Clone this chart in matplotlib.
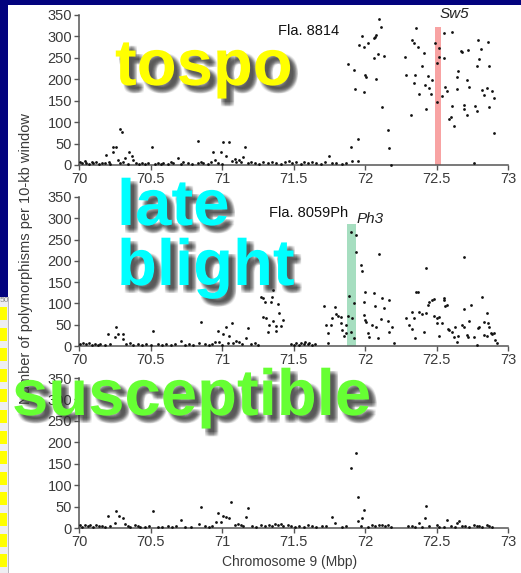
import matplotlib
matplotlib.use('Agg')
import matplotlib.pyplot as plt
import matplotlib.patheffects as pe
from matplotlib.patches import Rectangle
import numpy as np

# ---- data (Mbp, polymorphisms per 10 kb) ----
top_pts = [(70.29,84),(70.30,77),(70.24,42),(70.26,42),(70.19,23),(70.24,30),(70.27,12),(70.32,16),
           (70.35,30),(70.37,21),(70.38,12),(70.51,42),(70.69,16),(70.73,7),(70.83,56),(70.83,5),
           (70.94,30),(70.99,30),(70.95,12),(71.01,54),(71.05,54),(71.03,21),(71.16,42),(71.15,18),
           (72.10,341),(72.11,322),(71.98,301),(71.96,280),(71.99,275),(72.02,285),(72.06,296),(72.07,299),
           (72.08,303),(72.06,250),(72.09,259),(72.13,254),(71.88,236),(71.92,222),(72.00,210),(72.01,205),
           (72.08,201),(71.93,177),(71.99,170),(72.12,135),(72.16,82),(71.95,61),(71.90,42),(72.17,40),
           (71.75,21),(71.91,9),(71.95,9),(72.18,0),
           (72.36,319),(72.33,292),(72.34,285),(72.37,275),(72.41,261),(72.28,252),(72.40,231),(72.29,210),
           (72.35,210),(72.44,208),(72.47,198),(72.34,191),(72.42,187),(72.45,180),(72.38,166),(72.46,166),
           (72.50,147),(72.43,131),(72.32,117),(72.49,285),(72.55,308),(72.61,310),(72.52,273),(72.52,252),
           (72.55,250),(72.50,238),(72.56,182),(72.57,173),(72.54,161),(72.65,219),(72.64,205),(72.64,177),
           (72.61,138),(72.60,112),(72.59,107),(72.62,91),(72.67,266),(72.68,264),(72.72,268),(72.79,292),
           (72.86,287),(72.81,271),(72.80,247),(72.78,231),(72.87,231),(72.71,198),(72.73,182),(72.82,175),
           (72.83,163),(72.85,180),(72.89,173),(72.90,156),(72.69,140),(72.69,131),(72.71,117),(72.77,138),
           (72.78,126),(72.87,135),(72.90,75),(72.76,5)]
top_base = [(70.01,6),(70.02,4),(70.04,9),(70.05,5),(70.07,3),(70.09,7),(70.10,4),(70.12,6),(70.14,3),
            (70.16,5),(70.18,4),(70.21,6),(70.22,2),(70.29,4),(70.31,7),(70.34,3),(70.40,5),(70.42,2),
            (70.44,4),(70.46,3),(70.48,5),(70.53,3),(70.55,4),(70.57,2),(70.59,5),(70.62,3),(70.64,6),
            (70.66,4),(70.71,3),(70.76,5),(70.79,2),(70.85,8),(70.87,4),(70.90,3),(70.92,6),(70.97,5),
            (71.00,3),(71.07,10),(71.09,14),(71.10,8),(71.12,12),(71.13,6),(71.18,4),(71.20,7),(71.23,5),
            (71.26,3),(71.29,6),(71.32,4),(71.35,8),(71.38,5),(71.41,3),(71.44,7),(71.47,9),(71.49,4),
            (71.52,6),(71.55,3),(71.57,8),(71.60,5),(71.63,7),(71.66,4),(71.69,3),(71.72,6),(71.77,5),
            (71.80,4),(71.84,3),(71.87,5)]

mid_pts = [(70.20,28),(70.26,45),(70.25,21),(70.27,28),(70.31,28),(70.31,16),(70.52,35),(70.71,12),
           (70.85,56),(70.84,7),(70.97,35),(71.01,28),(71.03,45),(71.07,54),(71.05,23),(70.95,9),(70.98,9),
           (71.18,42),(71.17,19),
           (71.27,115),(71.29,113),(71.30,103),(71.35,115),(71.34,103),(71.39,99),(71.36,132),(71.40,78),
           (71.29,68),(71.31,66),(71.36,59),(71.43,61),(71.33,49),(71.38,47),(71.41,47),(71.32,33),(71.38,35),
           (71.71,94),(71.73,49),(71.76,49),(71.74,31),(71.77,66),(71.79,92),(71.80,75),(71.81,70),(71.83,68),
           (71.83,54),(71.84,38),(71.85,23),(71.74,7),
           (71.90,268),(71.94,261),(71.94,221),(71.97,190),(71.98,176),(71.89,117),(71.92,101),(71.88,70),
           (71.91,66),(71.87,49),(71.90,33),(71.87,31),(71.92,19),
           (72.00,127),(71.99,103),(71.99,73),(72.00,61),(72.01,56),(72.02,31),(72.03,21),(72.05,49),
           (72.06,125),(72.07,94),(72.10,216),(72.08,45),(72.09,19),(72.11,63),(72.12,113),(72.13,89),
           (72.17,108),(72.16,59),(72.17,33),(72.19,45),(72.20,7),
           (72.29,66),(72.31,49),(72.33,40),(72.34,66),(72.35,19),(72.33,80),(72.36,127),(72.37,127),
           (72.38,80),(72.40,75),(72.41,33),(72.43,183),(72.43,78),(72.44,96),(72.45,103),(72.47,108),
           (72.48,110),(72.48,70),(72.50,66),(72.50,54),(72.52,68),(72.54,54),(72.52,23),(72.55,113),
           (72.55,108),(72.56,94),(72.57,96),(72.58,40),(72.59,38),(72.61,33),(72.62,21),(72.63,45),
           (72.64,9),(72.65,23),(72.68,49),(72.69,45),(72.69,209),(72.69,87),(72.71,26),(72.72,21),
           (72.73,59),(72.74,96),(72.78,2),(72.76,21),(72.79,42),(72.80,45),(72.82,115),(72.83,56),
           (72.83,26),(72.85,23),(72.85,78),(72.86,54),(72.87,45),(72.88,31),(72.89,28),(72.90,31),
           (72.91,14),(72.92,7)]
mid_base = [(70.01,5),(70.03,8),(70.05,4),(70.07,6),(70.09,3),(70.11,5),(70.13,2),(70.15,4),(70.18,3),
            (70.22,5),(70.33,4),(70.36,6),(70.38,3),(70.41,5),(70.44,2),(70.47,4),(70.50,3),(70.55,5),
            (70.58,2),(70.61,4),(70.64,3),(70.67,5),(70.74,3),(70.77,4),(70.80,2),(70.88,5),(70.91,3),
            (70.93,4),(71.00,3),(71.04,6),(71.08,8),(71.10,12),(71.12,9),(71.14,5),(71.20,4),(71.23,6),
            (71.25,3),(71.48,4),(71.50,2),(71.52,6),(71.54,3),(71.55,8),(71.57,5),(71.58,10),(71.60,4),
            (71.61,7),(71.63,3),(71.65,5)]

bot_pts = [(70.20,28),(70.25,12),(70.26,40),(70.28,28),(70.31,23),(70.32,9),(70.52,40),(70.71,19),
           (70.85,49),(70.84,9),(70.97,35),(71.01,28),(71.03,26),(71.05,23),(71.06,61),(70.96,14),
           (70.99,14),(71.18,47),(71.17,26),
           (71.77,26),(71.79,12),(71.90,140),(71.94,175),(71.95,72),(71.99,42),(71.98,23),(71.95,16),
           (72.38,12),(72.42,23),(72.43,51),(72.50,7),(72.57,19),(72.64,12),(72.66,16)]
bot_base = [(70.01,6),(70.02,3),(70.04,8),(70.06,4),(70.08,6),(70.10,3),(70.12,7),(70.14,4),(70.16,5),
            (70.18,3),(70.22,4),(70.34,5),(70.36,3),(70.39,6),(70.41,4),(70.43,2),(70.46,3),(70.49,5),
            (70.55,3),(70.58,2),(70.62,4),(70.65,3),(70.68,5),(70.74,3),(70.78,2),(70.88,4),(70.91,3),
            (70.93,5),(71.09,8),(71.11,10),(71.13,6),(71.15,5),(71.21,4),(71.24,3),(71.27,6),(71.30,4),
            (71.33,7),(71.35,5),(71.37,10),(71.39,8),(71.41,9),(71.43,5),(71.46,6),(71.48,4),(71.51,3),
            (71.54,5),(71.57,2),(71.60,6),(71.63,4),(71.66,3),(71.70,5),(71.73,4),(71.84,3),(71.87,5),
            (71.97,4),(72.02,3),(72.05,7),(72.07,5),(72.10,6),(72.12,8),(72.14,4),(72.16,6),(72.18,3),
            (72.30,4),(72.33,5),(72.35,3),(72.40,2),(72.45,4),(72.52,3),(72.55,2),(72.60,5),(72.63,3),
            (72.68,4),(72.70,5),(72.73,3),(72.76,6),(72.78,4),(72.80,5),(72.82,3),(72.85,6),(72.87,4),
            (72.89,3)]

# gene bands: centre, width, top
band_x = [72.51, 71.905]
band_w = [0.042, 0.063]
band_top = [322, 287]
band_col = ['#f8a3a3', '#a6dec0']

xticks = [70, 70.5, 71, 71.5, 72, 72.5, 73]
xlabels = ['70', '70.5', '71', '71.5', '72', '72.5', '73']
yticks = [0, 50, 100, 150, 200, 250, 300, 350]

W, H = 521, 573
def fx(px):
    return px / W
def fy(py):
    return 1 - py / H

plt.rcParams['font.family'] = ['Liberation Sans', 'DejaVu Sans']
fig = plt.figure(figsize=(W/100, H/100), dpi=100, facecolor='#03037e')

# white slide panel and the strip of another screenshot on the left
fig.patches.append(Rectangle((fx(8), 0), 1, fy(5), transform=fig.transFigure,
                             facecolor='white', edgecolor='none', zorder=-10))
fig.patches.append(Rectangle((0, 0), fx(8), fy(297), transform=fig.transFigure,
                             facecolor='#eeeef2', edgecolor='none', zorder=-9))
for k in range(13):
    y0 = 307 + k * 20.6
    fig.patches.append(Rectangle((0, fy(y0 + 13)), fx(7), 13 / H, transform=fig.transFigure,
                                 facecolor='#ffff00', edgecolor='none', zorder=-8))
fig.patches.append(Rectangle((fx(8), 0), 1.2 / W, fy(297), transform=fig.transFigure,
                             facecolor='#b8b8c0', edgecolor='none', zorder=-8))
fig.text(fx(0), fy(301), '50', fontsize=6, color='#888888', va='center', ha='left', zorder=-7)

panels = [(15, 165, top_pts, top_base), (197, 346, mid_pts, mid_base), (378, 528, bot_pts, bot_base)]
axes = []
for i, (ytop, ybot, pts, base) in enumerate(panels):
    ax = fig.add_axes([fx(79), fy(ybot), fx(508) - fx(79), (ybot - ytop) / H])
    ax.set_facecolor('none')
    if i < 2:
        ax.bar(band_x[i], band_top[i], width=band_w[i], color=band_col[i], zorder=1)
    allp = np.array(pts + base)
    ax.scatter(allp[:, 0], allp[:, 1], s=4, color='#111111', linewidths=0, zorder=3, clip_on=False)
    ax.set_xlim(70, 73)
    ax.set_ylim(0, 350)
    ax.set_xticks(xticks)
    ax.set_xticklabels(xlabels)
    ax.set_yticks(yticks)
    for s in ['top', 'right']:
        ax.spines[s].set_visible(False)
    for s in ['left', 'bottom']:
        ax.spines[s].set_color('#555555')
        ax.spines[s].set_linewidth(1.1)
    ax.tick_params(direction='out', length=3.5, width=1, color='#555555',
                   labelsize=10.5, labelcolor='#3a3a3a', pad=1.5)
    axes.append(ax)

# labels inside the panels
fig.text(fx(278), fy(31), 'Fla. 8814', fontsize=10.5, color='#111111', va='center', ha='left')
fig.text(fx(440), fy(14), 'Sw5', fontsize=11, style='italic', color='#222222', va='center', ha='left')
fig.text(fx(269), fy(213), 'Fla. 8059Ph', fontsize=10.5, color='#111111', va='center', ha='left')
fig.text(fx(357), fy(219), 'Ph3', fontsize=11, style='italic', color='#222222', va='center', ha='left')

fig.text(fx(290), fy(562), 'Chromosome 9 (Mbp)', fontsize=10, color='#3a3a3a', ha='center', va='center')
fig.text(fx(26), fy(113), 'Number of polymorphisms per 10-kb window', fontsize=10.5,
         color='#3a3a3a', rotation=90, ha='center', va='top')

# big slide words with a soft drop shadow (stacked shifted copies)
shadow = []
for dx in [2.5, 3.5, 4.5, 5.5]:
    for dy in [2.5, 3.5, 4.5, 5.5]:
        shadow.append(pe.SimplePatchShadow(offset=(dx, -dy), shadow_rgbFace='#303030', alpha=0.09))
shadow.append(pe.Normal())
words = [('tospo', 115, 85, '#ffff00'), ('late', 117, 225, '#00ffff'),
         ('blight', 117, 285, '#00ffff'), ('susceptible', 12, 415, '#66ff33')]
for txt, px, py, col in words:
    fig.text(fx(px), fy(py), txt, fontsize=47, fontweight='bold', color=col,
             ha='left', va='baseline', path_effects=shadow, zorder=10)

fig.savefig('out.png', dpi=100, facecolor=fig.get_facecolor())
